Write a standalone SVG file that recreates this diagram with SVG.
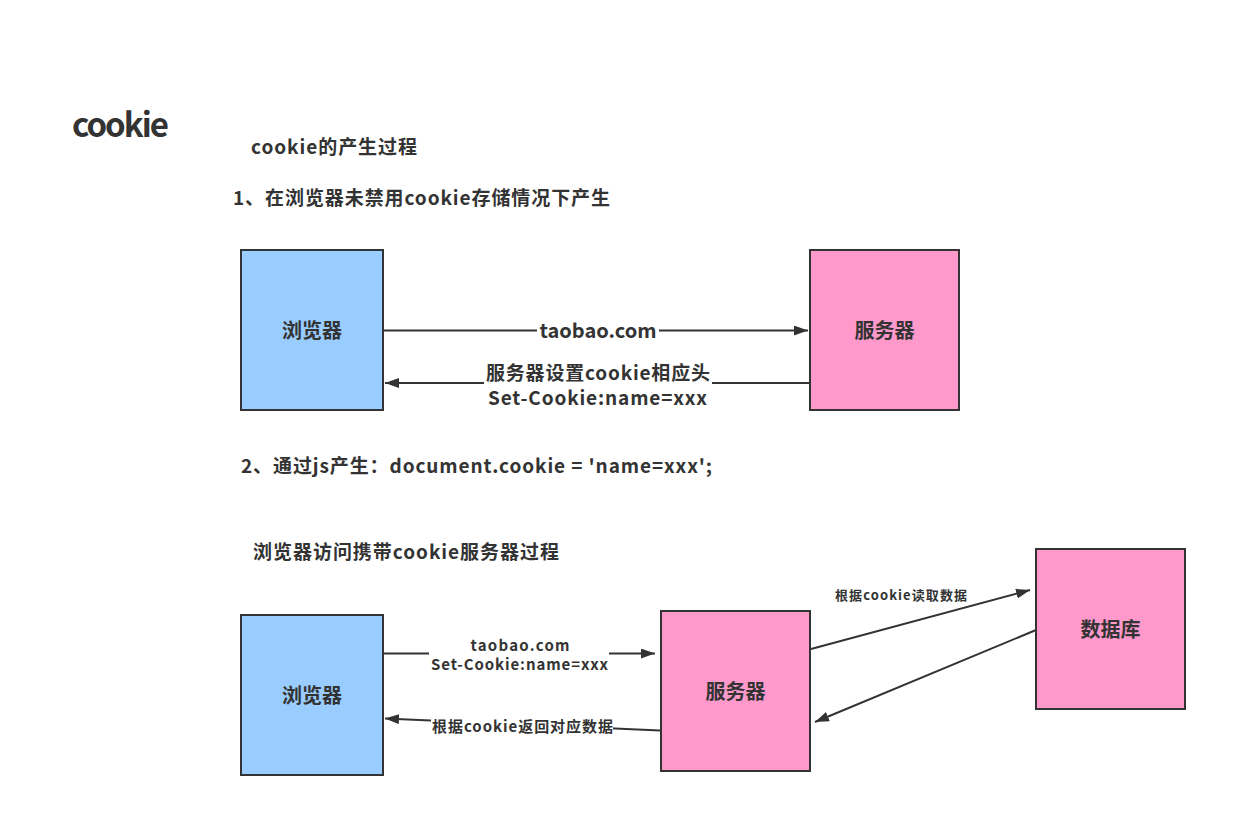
<svg xmlns="http://www.w3.org/2000/svg" width="1247" height="837" viewBox="0 0 1247 837">
<style>
text{font-family:"Noto Sans CJK SC","Liberation Sans",sans-serif;font-weight:bold;fill:#333333}
.c{dominant-baseline:central}
.m{text-anchor:middle}
.browser{fill:#99CCFF;stroke:#333333;stroke-width:2}
.server{fill:#FF99CC;stroke:#333333;stroke-width:2}
.edge{stroke:#333333;stroke-width:2;fill:none;marker-end:url(#arrow)}
.bg{fill:#ffffff}
</style>
<defs>
<marker id="arrow" markerUnits="userSpaceOnUse" markerWidth="16" markerHeight="10" refX="14" refY="5" orient="auto">
<path d="M0,0 L14,5 L0,10 z" fill="#333333"/>
</marker>
</defs>
<rect width="1247" height="837" fill="#ffffff"/>

<g id="titles">
<text x="72" y="137" font-size="33" textLength="97">cookie</text>
<text class="c" x="251" y="145" font-size="19" textLength="166">cookie的产生过程</text>
<text class="c" x="233" y="196" font-size="19" textLength="377">1、在浏览器未禁用cookie存储情况下产生</text>
<text class="c" x="241" y="464" font-size="19" textLength="471">2、通过js产生：document.cookie = 'name=xxx';</text>
<text class="c" x="253" y="550" font-size="19" textLength="306">浏览器访问携带cookie服务器过程</text>
</g>

<g id="connectors">
<line class="edge" x1="383" y1="330.5" x2="808" y2="330.5"/>
<rect class="bg" x="537" y="319" width="122" height="24"/>
<text class="c m" x="598" y="329" font-size="20" textLength="117">taobao.com</text>

<line class="edge" x1="810" y1="383" x2="385" y2="383"/>
<rect class="bg" x="484" y="361" width="228" height="48"/>
<text class="c m" x="598" y="371" font-size="19" textLength="224">服务器设置cookie相应头</text>
<text class="c m" x="597.5" y="396" font-size="19" textLength="219">Set-Cookie:name=xxx</text>

<line class="edge" x1="383" y1="653.5" x2="655" y2="653.5"/>
<rect class="bg" x="429" y="634" width="180" height="42"/>
<text class="c m" x="520" y="644.5" font-size="15" textLength="99">taobao.com</text>
<text class="c m" x="519.5" y="663.5" font-size="15" textLength="177">Set-Cookie:name=xxx</text>

<line class="edge" x1="660" y1="730.5" x2="385" y2="718.5"/>
<rect class="bg" x="431" y="714" width="182" height="27"/>
<text class="c m" x="522.5" y="725.5" font-size="15" textLength="181">根据cookie返回对应数据</text>

<line class="edge" x1="811" y1="649" x2="1030" y2="590"/>
<text class="c m" x="901" y="594" font-size="13" textLength="132">根据cookie读取数据</text>

<line class="edge" x1="1036" y1="630" x2="815" y2="722"/>
</g>

<g id="browser1">
<rect class="browser" x="241" y="250" width="142" height="160"/>
<text class="c m" x="312" y="329" font-size="20">浏览器</text>
</g>
<g id="server1">
<rect class="server" x="810" y="250" width="149" height="160"/>
<text class="c m" x="884.5" y="329" font-size="20">服务器</text>
</g>
<g id="browser2">
<rect class="browser" x="241" y="615" width="142" height="160"/>
<text class="c m" x="312" y="694" font-size="20">浏览器</text>
</g>
<g id="server2">
<rect class="server" x="661" y="611" width="149" height="160"/>
<text class="c m" x="735.5" y="690" font-size="20">服务器</text>
</g>
<g id="database">
<rect class="server" x="1036" y="549" width="149" height="160"/>
<text class="c m" x="1110.5" y="628" font-size="20">数据库</text>
</g>
</svg>
